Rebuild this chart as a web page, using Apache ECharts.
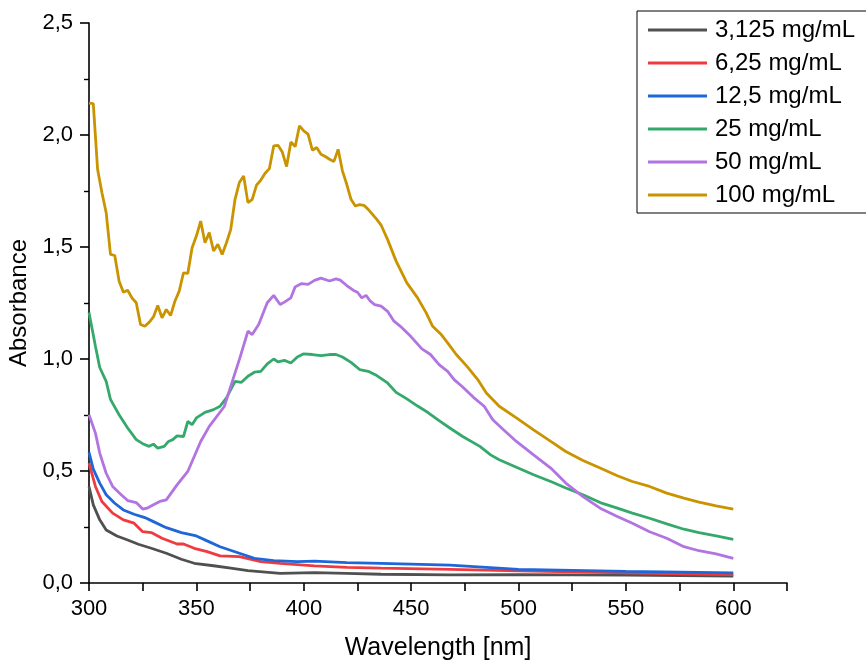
<!DOCTYPE html>
<html>
<head>
<meta charset="utf-8">
<script src="https://cdn.jsdelivr.net/npm/echarts@6/dist/echarts.min.js"></script>
<style>
html,body{margin:0;padding:0;background:#fff;}
#chart{width:866px;height:663px;}
</style>
</head>
<body>
<div id="chart"></div>
<script>
// ---- data (wavelength in nm, absorbance) ----
const seriesNames = ['3,125 mg/mL', '6,25 mg/mL', '12,5 mg/mL', '25 mg/mL', '50 mg/mL', '100 mg/mL'];
const seriesColors = ['#505050', '#ef3b3f', '#1f66d9', '#34a96b', '#b274e0', '#c99400'];

const wl_3125 = [300,302,305,308,313,318,323,329,336,343,349,358,366,374,389,405,420,436,468,500,550,600];
const abs_3125 = [0.431,0.349,0.282,0.237,0.21,0.192,0.173,0.155,0.133,0.106,0.088,0.077,0.066,0.055,0.043,0.046,0.043,0.039,0.036,0.037,0.035,0.031];

const wl_625 = [300,303,306,311,316,321,325,329,334,341,344,349,355,361,370,380,389,405,420,436,468,500,550,600];
const abs_625 = [0.535,0.431,0.364,0.312,0.282,0.267,0.229,0.225,0.2,0.174,0.174,0.155,0.14,0.121,0.118,0.095,0.088,0.076,0.07,0.066,0.061,0.054,0.045,0.037];

const wl_125 = [300,302,305,308,312,316,321,326,330,336,343,350,355,361,369,377,386,397,405,420,436,468,500,550,600];
const abs_125 = [0.583,0.508,0.446,0.394,0.356,0.326,0.307,0.292,0.274,0.247,0.225,0.21,0.188,0.162,0.136,0.11,0.1,0.095,0.098,0.091,0.088,0.08,0.061,0.052,0.045];

const wl_25 = [300,303,305,308,310,314,318,322,325,328,330,332,335,337,339,341,344,346,348,350,354,358,361,364,368,371,374,377,380,383,386,388,391,394,397,400,404,408,412,415,418,422,426,430,434,439,443,448,453,458,463,468,474,482,487,491,499,507,515,522,530,538,546,553,561,569,577,584,592,600];
const abs_25 = [1.208,1.057,0.962,0.9,0.82,0.751,0.692,0.64,0.622,0.61,0.62,0.602,0.61,0.632,0.64,0.657,0.654,0.721,0.707,0.737,0.762,0.774,0.789,0.826,0.9,0.896,0.923,0.941,0.945,0.978,1.0,0.987,0.994,0.982,1.009,1.023,1.02,1.015,1.02,1.02,1.009,0.985,0.953,0.945,0.926,0.893,0.851,0.822,0.79,0.76,0.725,0.692,0.654,0.61,0.572,0.55,0.517,0.483,0.453,0.424,0.394,0.359,0.334,0.312,0.289,0.264,0.24,0.225,0.21,0.195];

const wl_50 = [300,303,305,308,311,315,318,322,325,327,330,333,336,341,346,352,356,363,367,370,374,376,379,383,386,389,391,394,396,399,402,405,408,412,415,417,420,423,425,427,429,431,433,436,439,442,445,450,455,459,463,467,470,474,479,484,488,493,499,507,515,522,530,538,546,553,561,569,577,584,592,600];
const abs_50 = [0.751,0.669,0.58,0.49,0.431,0.394,0.368,0.359,0.33,0.334,0.349,0.364,0.371,0.438,0.498,0.632,0.699,0.788,0.908,0.997,1.124,1.109,1.154,1.251,1.284,1.243,1.254,1.273,1.322,1.337,1.333,1.351,1.361,1.348,1.358,1.352,1.328,1.307,1.298,1.273,1.284,1.258,1.243,1.236,1.213,1.169,1.146,1.099,1.045,1.02,0.975,0.945,0.908,0.875,0.829,0.789,0.729,0.684,0.632,0.572,0.513,0.446,0.386,0.334,0.297,0.267,0.229,0.2,0.162,0.144,0.13,0.11];

const wl_100 = [300,302,304,306,308,310,312,314,316,318,320,322,324,326,328,330,332,334,336,338,340,342,344,346,348,350,352,354,356,358,360,362,364,366,368,370,372,374,376,378,380,382,384,386,388,390,392,394,396,398,400,402,404,406,408,410,412,414,416,418,420,422,424,426,428,430,432,434,436,439,443,448,453,457,460,464,467,471,476,481,485,491,499,507,515,522,530,538,546,553,561,569,577,584,592,600];
const abs_100 = [2.142,2.14,1.847,1.743,1.653,1.467,1.462,1.348,1.298,1.307,1.273,1.251,1.154,1.146,1.164,1.188,1.239,1.184,1.221,1.194,1.258,1.303,1.385,1.382,1.497,1.549,1.616,1.519,1.564,1.482,1.512,1.467,1.519,1.579,1.713,1.788,1.817,1.698,1.713,1.776,1.799,1.829,1.85,1.951,1.954,1.924,1.859,1.969,1.948,2.041,2.018,2.004,1.932,1.944,1.914,1.904,1.892,1.881,1.936,1.84,1.78,1.713,1.683,1.689,1.686,1.668,1.646,1.623,1.598,1.534,1.437,1.34,1.273,1.206,1.146,1.109,1.072,1.02,0.967,0.908,0.848,0.789,0.737,0.684,0.632,0.587,0.547,0.513,0.479,0.453,0.431,0.401,0.379,0.361,0.344,0.33];

const xTicks = [300, 350, 400, 450, 500, 550, 600];
const yTicks = [0, 0.5, 1.0, 1.5, 2.0, 2.5];

const wlList = [wl_3125, wl_625, wl_125, wl_25, wl_50, wl_100];
const absList = [abs_3125, abs_625, abs_125, abs_25, abs_50, abs_100];

const FONT = 'Liberation Sans, Arial, sans-serif';

const chart = echarts.init(document.getElementById('chart'), null, {renderer: 'canvas'});

const series = seriesNames.map((name, i) => ({
  name: name,
  type: 'line',
  showSymbol: false,
  symbol: 'none',
  smooth: false,
  data: wlList[i].map((w, j) => [w, absList[i][j]]),
  lineStyle: {color: seriesColors[i], width: 2.8},
  itemStyle: {color: seriesColors[i]},
  z: 2 + i
}));

chart.setOption({
  animation: false,
  backgroundColor: '#ffffff',
  grid: {left: 89, right: 79, top: 23, bottom: 80, containLabel: false, outerBoundsMode: 'none'},
  legend: {
    orient: 'vertical',
    left: 637,
    top: 11,
    padding: [6, 30, 5, 11],
    itemGap: 7,
    itemWidth: 59,
    itemHeight: 3,
    icon: 'rect',
    borderColor: '#000',
    borderWidth: 1,
    backgroundColor: '#fff',
    textStyle: {fontFamily: FONT, fontSize: 24, color: '#000', lineHeight: 26, padding: [0, 0, 0, 3]},
    data: seriesNames.map(n => ({name: n, icon: 'rect'}))
  },
  xAxis: {
    type: 'value',
    min: 300,
    max: 625,
    interval: 25,
    name: 'Wavelength [nm]',
    nameLocation: 'middle',
    nameGap: 53,
    nameTextStyle: {fontFamily: FONT, fontSize: 25, color: '#000'},
    axisLine: {show: true, onZero: false, lineStyle: {color: '#000', width: 1.6}},
    axisTick: {show: true, inside: false, length: 8, lineStyle: {color: '#000', width: 1.6}},
    axisLabel: {
      fontFamily: FONT, fontSize: 22, color: '#000', margin: 15,
      formatter: v => (xTicks.indexOf(v) >= 0 ? String(v) : '')
    },
    splitLine: {show: false}
  },
  yAxis: {
    type: 'value',
    min: 0,
    max: 2.5,
    interval: 0.5,
    name: 'Absorbance',
    nameLocation: 'middle',
    nameGap: 55,
    nameTextStyle: {fontFamily: FONT, fontSize: 24, color: '#000'},
    axisLine: {show: true, lineStyle: {color: '#000', width: 1.6}},
    axisTick: {show: true, inside: false, length: 9, lineStyle: {color: '#000', width: 1.6}},
    minorTick: {show: true, splitNumber: 2, length: 5, lineStyle: {color: '#000', width: 1.4}},
    axisLabel: {
      fontFamily: FONT, fontSize: 22, color: '#000', margin: 16,
      formatter: v => (yTicks.some(t => Math.abs(t - v) < 1e-9) ? v.toFixed(1).replace('.', ',') : '')
    },
    splitLine: {show: false}
  },
  series: series
});
</script>
</body>
</html>
